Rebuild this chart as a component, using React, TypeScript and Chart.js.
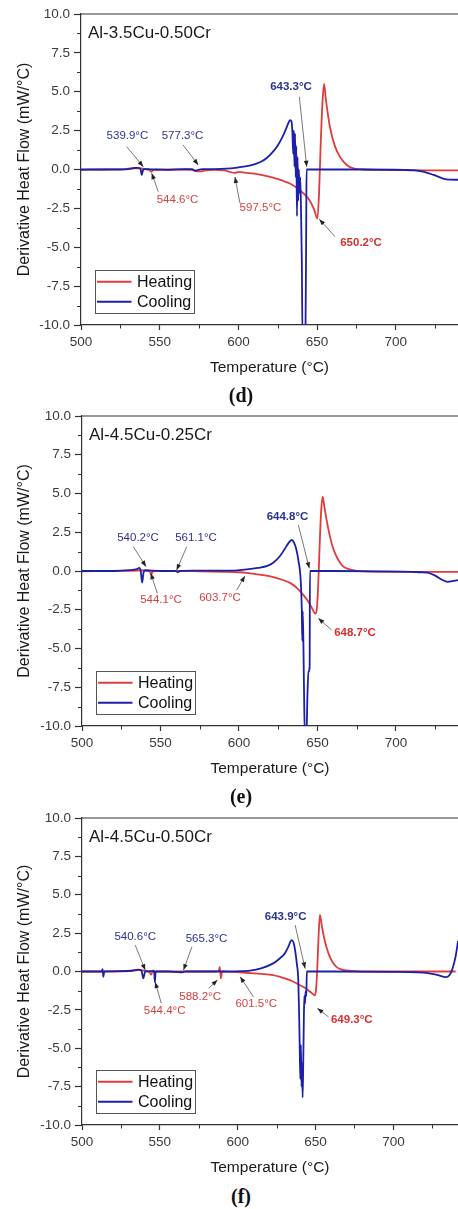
import { useEffect, useRef } from "react";
import { Chart, registerables } from "chart.js";
Chart.register(...registerables);
Chart.defaults.font.family = 'Arial, "Liberation Sans", sans-serif';

// ---------- axes ----------
const X_TICKS = [500, 550, 600, 650, 700];
const X_MINOR = [525, 575, 625, 675, 725];
const Y_TICKS = [-10, -7.5, -5, -2.5, 0, 2.5, 5, 7.5, 10];
const Y_MINOR = [-8.75, -6.25, -3.75, -1.25, 1.25, 3.75, 6.25, 8.75];
const SERIES_LABELS = ["Heating", "Cooling"];
const TITLES = ["Al-3.5Cu-0.50Cr", "Al-4.5Cu-0.25Cr", "Al-4.5Cu-0.50Cr"];
const CAPTIONS = ["(d)", "(e)", "(f)"];

// ---------- panel (d) ----------
const dHeatT = [500, 515, 528, 533, 537, 541, 543.5, 544.6, 546, 552, 562, 570, 573, 576, 579, 585, 591, 594.5, 597.5, 600.5, 604, 610, 616, 622, 628, 633, 638, 642, 645, 648, 650.2, 651.2, 652.3, 653.4, 654.4, 655.6, 658.1, 661.4, 664.5, 668.8, 673, 680, 690, 705, 720, 740];
const dHeatV = [-0.02, 0, 0.03, 0.08, 0.08, 0.02, -0.02, -0.15, -0.03, 0, 0, -0.02, -0.1, -0.12, -0.05, -0.03, -0.06, -0.15, -0.22, -0.15, -0.2, -0.27, -0.38, -0.52, -0.72, -0.92, -1.25, -1.6, -1.95, -2.55, -3.15, -1.6, 1.7, 4.3, 5.5, 4.47, 2.75, 1.47, 0.82, 0.29, 0.08, 0, -0.03, -0.04, -0.05, -0.05];
const dCoolT = [500, 520, 530, 534.5, 536.5, 537.8, 538.6, 539.4, 540.5, 548, 556, 566, 570.5, 572.5, 574.5, 577.5, 585, 592, 598, 603, 609, 614, 618, 622, 625, 628, 630, 632, 632.8, 633.7, 634.3, 634.8, 635.2, 635.6, 636.0, 636.4, 636.8, 637.2, 637.6, 638.0, 638.4, 638.8, 639.3, 639.8, 640.3, 640.7, 642.6, 643.1, 643.3, 650, 680, 705, 712, 718, 724, 730, 734, 740];
const dCoolV = [0, 0, 0.03, 0.1, 0.1, 0.02, -0.35, -0.05, 0.02, 0, -0.02, 0.02, 0.03, -0.08, -0.02, 0.02, 0.03, 0.05, 0.1, 0.18, 0.3, 0.48, 0.74, 1.15, 1.55, 2.1, 2.55, 3.05, 3.18, 3.1, 2.4, 1.0, 2.5, 0.2, 2.3, -0.5, 1.5, -3.0, 0.8, -2.0, 0.0, -1.5, -0.5, -2.8, -6, -10.6, -10.6, -3, 0, 0, 0, -0.03, -0.06, -0.15, -0.35, -0.58, -0.65, -0.66];

// ---------- panel (e) ----------
const eHeatT = [500, 520, 535, 538, 542, 543.4, 544.1, 544.8, 547, 560, 575, 590, 600, 605, 612, 620, 628, 633, 637, 641, 644, 646.5, 648.7, 649.5, 650.2, 650.8, 651.5, 652.3, 653.3, 654.3, 655.8, 658, 660, 662.2, 664.3, 666.5, 670, 674, 680, 700, 720, 740];
const eHeatV = [-0.02, 0, 0.02, 0.05, 0.0, -0.05, -0.25, -0.05, 0, 0, -0.02, -0.05, -0.08, -0.12, -0.22, -0.35, -0.58, -0.8, -1.1, -1.55, -1.95, -2.4, -2.75, -2.5, -1.5, 0, 2.0, 3.8, 4.8, 4.2, 3.3, 2.2, 1.45, 0.92, 0.55, 0.28, 0.12, 0.03, -0.02, -0.05, -0.05, -0.05];
const eCoolT = [500, 520, 530, 535, 536.6, 537.4, 538.3, 539.2, 540.2, 545, 552, 559.5, 561.1, 562.5, 570, 580, 590, 597, 605, 612, 618, 622, 626, 629, 631.5, 633.6, 635, 636.5, 637.8, 639.3, 640.0, 640.3, 640.6, 641.0, 641.6, 642.0, 643.0, 643.6, 644.3, 645.0, 645.2, 660, 690, 710, 716, 720, 725, 729, 733, 736, 740];
const eCoolV = [0, 0, 0.05, 0.12, 0.2, 0.0, -0.75, -0.1, 0.05, 0.02, 0.0, 0.0, -0.08, 0.0, 0.02, 0.02, 0.02, 0.03, 0.1, 0.2, 0.33, 0.55, 0.95, 1.4, 1.8, 2.0, 1.85, 1.4, 0.7, -0.58, -2.5, -4.5, -2.6, -4.5, -9, -10.6, -10.6, -8, -6.5, -6.2, 0, 0, -0.02, -0.05, -0.08, -0.1, -0.3, -0.55, -0.7, -0.65, -0.58];

// ---------- panel (f) ----------
const fHeatT = [500, 520, 533, 537, 540, 542.5, 543.7, 544.4, 545.2, 548, 565, 585, 587.8, 588.5, 589.2, 590, 595, 601.5, 608, 615, 622.8, 628, 633.5, 638, 642, 645, 647.5, 649.6, 650.4, 651.1, 651.9, 652.8, 654, 655.5, 657, 659, 661, 663.4, 666, 670, 676, 690, 720, 740];
const fHeatV = [0, 0, 0.05, 0.1, 0.05, 0.0, -0.08, -0.2, -0.02, 0, 0, 0, 0.05, 0.3, -0.45, 0.0, -0.02, -0.05, -0.1, -0.15, -0.23, -0.38, -0.56, -0.78, -1.0, -1.2, -1.4, -1.55, -1.1, 0.2, 2.2, 3.68, 3.0, 2.2, 1.6, 1.0, 0.6, 0.3, 0.15, 0.07, 0.02, 0, 0, 0];
const fCoolT = [500, 512.6, 513.2, 513.7, 514.3, 525, 532, 536, 538.2, 539.4, 540.6, 544, 546.3, 546.8, 547.3, 555, 563.5, 565.3, 567, 580, 595, 603, 608, 615, 622.8, 627, 630.3, 632.5, 634.6, 635.8, 637, 638, 638.9, 639.4, 639.8, 640.2, 640.6, 641.0, 641.4, 641.7, 642.1, 642.5, 642.8, 643.2, 643.6, 644.1, 644.4, 660, 700, 715, 722, 728, 734, 736, 738, 740, 741.5, 743];
const fCoolV = [0, 0, 0.15, -0.35, 0, 0.02, 0.05, 0.12, 0.05, -0.45, 0.0, 0.02, 0.05, -0.7, 0.0, 0.0, -0.05, -0.02, 0.0, 0.0, 0.0, 0.02, 0.05, 0.2, 0.53, 0.85, 1.18, 1.6, 2.05, 1.9, 1.3, 0.5, -0.5, -2.5, -4.7, -7, -4.8, -7.5, -6, -8.2, -6, -3, -1.6, -2.1, -1.3, -1.6, 0, 0, -0.02, -0.05, -0.1, -0.22, -0.36, -0.25, 0.2, 1.0, 2.0, 3.5];

// ---------- annotations (text, series 0=heating/1=cooling, bold, label x/y, arrow from, arrow to; in data units) ----------
type Note = [string, number, boolean, number, number, number, number, number, number];
const dNotes: Note[] = [
  ["539.9°C", 1, false, 529.5, 2.15, 529.0, 1.47, 539.6, 0.18],
  ["577.3°C", 1, false, 564.5, 2.15, 564.8, 1.58, 574.5, 0.29],
  ["544.6°C", 0, false, 561.3, -1.92, 549.1, -1.43, 544.9, -0.24],
  ["597.5°C", 0, false, 614.0, -2.48, 601.0, -2.17, 597.8, -0.48],
  ["643.3°C", 1, true, 633.4, 5.32, 638.7, 4.68, 643.4, 0.18],
  ["650.2°C", 0, true, 677.9, -4.71, 661.4, -4.32, 651.4, -3.2],
];
const eNotes: Note[] = [
  ["540.2°C", 1, false, 535.7, 2.11, 532.7, 1.57, 540.8, 0.28],
  ["561.1°C", 1, false, 572.6, 2.11, 566.7, 1.57, 560.3, 0.06],
  ["544.1°C", 0, false, 550.3, -1.87, 548.0, -1.44, 543.8, -0.15],
  ["603.7°C", 0, false, 587.9, -1.7, 598.5, -1.23, 603.8, -0.32],
  ["644.8°C", 1, true, 630.9, 3.5, 637.8, 2.97, 644.8, 0.17],
  ["648.7°C", 0, true, 673.9, -4.02, 659.0, -3.81, 650.5, -3.05],
];
const fNotes: Note[] = [
  ["540.6°C", 1, false, 534.2, 2.26, 534.2, 1.72, 540.6, 0.09],
  ["565.3°C", 1, false, 580.0, 2.11, 570.6, 1.61, 565.2, 0.09],
  ["544.4°C", 0, false, 553.1, -2.56, 550.9, -2.06, 547.0, -0.69],
  ["588.2°C", 0, false, 575.9, -1.65, 581.3, -1.1, 587.0, -0.56],
  ["601.5°C", 0, false, 611.9, -2.12, 610.1, -1.65, 601.6, -0.34],
  ["643.9°C", 1, true, 630.8, 3.56, 636.9, 3.02, 643.3, 0.2],
  ["649.3°C", 0, true, 673.3, -3.12, 658.3, -2.95, 651.2, -2.4],
];

// ---------- styles ----------
const LINE_COLORS = ["#E23B3B", "#1C20A8"];
const NOTE_COLORS = ["#D8403F", "#2D3190"];
const NOTE_BOLD_COLORS = ["#D6302F", "#283592"];
const AXIS = "#333";

type PanelDef = {
  idx: number; top: number; canvasH: number; plotTop: number; plotBottom: number; left: number; xMax: number;
  heatT: number[]; heatV: number[]; coolT: number[]; coolV: number[]; notes: Note[]; captionY: number;
};

const PANELS: PanelDef[] = [
  { idx: 0, top: 0, canvasH: 380, plotTop: 14, plotBottom: 325, left: 81, xMax: 739.5, heatT: dHeatT, heatV: dHeatV, coolT: dCoolT, coolV: dCoolV, notes: dNotes, captionY: 395 },
  { idx: 1, top: 402, canvasH: 379, plotTop: 14, plotBottom: 324, left: 82, xMax: 739.5, heatT: eHeatT, heatV: eHeatV, coolT: eCoolT, coolV: eCoolV, notes: eNotes, captionY: 796 },
  { idx: 2, top: 804, canvasH: 376, plotTop: 14, plotBottom: 321, left: 82, xMax: 741.5, heatT: fHeatT, heatV: fHeatV, coolT: fCoolT, coolV: fCoolV, notes: fNotes, captionY: 1196 },
];

function pts(t: number[], v: number[]) {
  return t.map((x, i) => ({ x, y: v[i] }));
}

function drawArrow(ctx: CanvasRenderingContext2D, x0: number, y0: number, x1: number, y1: number) {
  ctx.strokeStyle = "#555";
  ctx.lineWidth = 0.8;
  ctx.beginPath();
  ctx.moveTo(x0, y0);
  ctx.lineTo(x1, y1);
  ctx.stroke();
  const a = Math.atan2(y1 - y0, x1 - x0);
  const L = 6, W = 2.3;
  const c = Math.cos(a), s = Math.sin(a);
  ctx.fillStyle = "#222";
  ctx.beginPath();
  ctx.moveTo(x1, y1);
  ctx.lineTo(x1 - L * c + W * s, y1 - L * s - W * c);
  ctx.lineTo(x1 - L * c - W * s, y1 - L * s + W * c);
  ctx.closePath();
  ctx.fill();
}

function decorPlugin(p: PanelDef) {
  return {
    id: "decor",
    afterDraw(chart: any) {
      const { ctx, chartArea: a, scales } = chart;
      const x = scales.x, y = scales.y;
      ctx.save();
      // top frame line
      ctx.strokeStyle = AXIS;
      ctx.lineWidth = 1.2;
      ctx.beginPath();
      ctx.moveTo(a.left, a.top);
      ctx.lineTo(a.right, a.top);
      ctx.stroke();
      // minor ticks
      ctx.lineWidth = 1;
      ctx.beginPath();
      for (const v of Y_MINOR) {
        const py = Math.round(y.getPixelForValue(v)) + 0.5;
        ctx.moveTo(a.left - 4, py);
        ctx.lineTo(a.left, py);
      }
      for (const v of X_MINOR) {
        const px = Math.round(x.getPixelForValue(v)) + 0.5;
        ctx.moveTo(px, a.bottom);
        ctx.lineTo(px, a.bottom + 3.5);
      }
      ctx.stroke();
      // panel title
      ctx.fillStyle = "#1a1a1a";
      ctx.font = '17px Arial, "Liberation Sans", sans-serif';
      ctx.textAlign = "left";
      ctx.textBaseline = "middle";
      ctx.fillText(TITLES[p.idx], a.left + 7, a.top + 19.3);
      // annotations
      for (const n of p.notes) {
        const [text, s, bold, tx, ty, x0, y0, x1, y1] = n;
        drawArrow(ctx, x.getPixelForValue(x0), y.getPixelForValue(y0), x.getPixelForValue(x1), y.getPixelForValue(y1));
        ctx.fillStyle = bold ? NOTE_BOLD_COLORS[s] : NOTE_COLORS[s];
        ctx.font = (bold ? "bold " : "") + '11.5px Arial, "Liberation Sans", sans-serif';
        ctx.textAlign = "center";
        ctx.textBaseline = "middle";
        ctx.fillText(text, x.getPixelForValue(tx), y.getPixelForValue(ty));
      }
      // legend
      const bx = a.left + 14, bw = 99, bh = 43;
      const by = a.bottom - 12 - bh;
      ctx.fillStyle = "#fff";
      ctx.fillRect(bx, by, bw, bh);
      ctx.strokeStyle = "#555";
      ctx.lineWidth = 1;
      ctx.strokeRect(Math.round(bx) + 0.5, Math.round(by) + 0.5, bw, bh);
      chart.data.datasets.forEach((ds: any, i: number) => {
        const ry = by + 11.7 + i * 20;
        ctx.strokeStyle = ds.borderColor;
        ctx.lineWidth = 2;
        ctx.beginPath();
        ctx.moveTo(bx + 2, ry);
        ctx.lineTo(bx + 36.5, ry);
        ctx.stroke();
        ctx.fillStyle = "#111";
        ctx.font = '16px Arial, "Liberation Sans", sans-serif';
        ctx.textAlign = "left";
        ctx.textBaseline = "middle";
        ctx.fillText(ds.label, bx + 42, ry + 0.5);
      });
      ctx.restore();
    },
  };
}

function Panel({ p }: { p: PanelDef }) {
  const ref = useRef<HTMLCanvasElement>(null);
  useEffect(() => {
    const xAxisH = p.canvasH - p.plotBottom;
    const chart = new Chart(ref.current as HTMLCanvasElement, {
      type: "line",
      data: {
        datasets: [
          { label: SERIES_LABELS[0], data: pts(p.heatT, p.heatV), borderColor: LINE_COLORS[0], borderWidth: 1.8, pointRadius: 0, cubicInterpolationMode: "monotone", order: 1 },
          { label: SERIES_LABELS[1], data: pts(p.coolT, p.coolV), borderColor: LINE_COLORS[1], borderWidth: 1.8, pointRadius: 0, cubicInterpolationMode: "monotone", order: 0 },
        ],
      },
      options: {
        animation: false,
        responsive: false,
        events: [],
        layout: { padding: { top: p.plotTop, left: 0, right: 0, bottom: 0 } },
        plugins: { legend: { display: false }, tooltip: { enabled: false } },
        scales: {
          x: {
            type: "linear",
            min: 500,
            max: p.xMax,
            afterBuildTicks: (s: any) => { s.ticks = X_TICKS.map((value) => ({ value })); },
            afterFit: (s: any) => { s.height = xAxisH; },
            grid: { display: true, drawOnChartArea: false, drawTicks: true, tickLength: 5, tickColor: AXIS, tickWidth: 1.2 },
            border: { display: true, color: AXIS, width: 1.2 },
            ticks: { padding: 4, color: "#3a3a3a", font: { size: 13.5 }, maxRotation: 0, callback: (v: any) => String(v) },
            title: { display: true, text: "Temperature (°C)", color: "#1a1a1a", font: { size: 15.5 }, padding: { top: 0, bottom: 3.2 } },
          },
          y: {
            type: "linear",
            min: -10,
            max: 10,
            afterBuildTicks: (s: any) => { s.ticks = Y_TICKS.map((value) => ({ value })); },
            afterFit: (s: any) => { s.width = p.left; },
            grid: { display: true, drawOnChartArea: false, drawTicks: true, tickLength: 7, tickColor: AXIS, tickWidth: 1.2 },
            border: { display: true, color: AXIS, width: 1.2 },
            ticks: { padding: 4, color: "#3a3a3a", font: { size: 13.5 }, callback: (v: any) => Number(v).toFixed(1) },
            title: { display: true, text: "Derivative Heat Flow (mW/°C)", color: "#1a1a1a", font: { size: 16 }, padding: { top: 15.4, bottom: 0 } },
          },
        },
      },
      plugins: [decorPlugin(p)],
    } as any);
    return () => chart.destroy();
  }, [p]);
  return (
    <canvas
      ref={ref}
      width={458}
      height={p.canvasH}
      style={{ position: "absolute", left: 0, top: p.top, width: 458, height: p.canvasH, display: "block" }}
    />
  );
}

export default function App() {
  return (
    <div style={{ position: "relative", width: 458, height: 1209, background: "#fff", overflow: "hidden" }}>
      <style>{"html,body{margin:0;padding:0;background:#fff;}"}</style>
      {PANELS.map((p) => (
        <Panel key={p.idx} p={p} />
      ))}
      {PANELS.map((p) => (
        <div
          key={"c" + p.idx}
          style={{
            position: "absolute",
            left: 191,
            width: 100,
            top: p.captionY - 12,
            height: 24,
            lineHeight: "24px",
            textAlign: "center",
            fontFamily: '"Liberation Serif", "Times New Roman", serif',
            fontWeight: "bold",
            fontSize: 20,
            color: "#111",
          }}
        >
          {CAPTIONS[p.idx]}
        </div>
      ))}
    </div>
  );
}
